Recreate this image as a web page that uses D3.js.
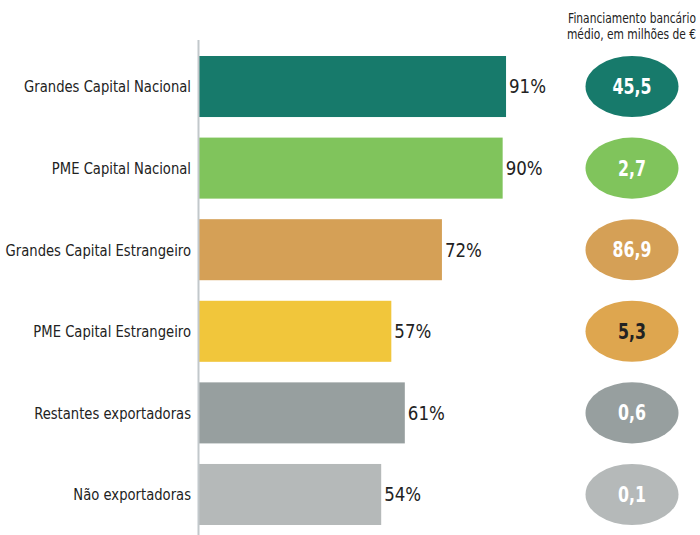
<!DOCTYPE html>
<html><head><meta charset="utf-8">
<script src="https://cdn.jsdelivr.net/npm/d3@7"></script>
<style>body{margin:0;background:#fff}svg{display:block}text{font-family:"DejaVu Sans Condensed","DejaVu Sans",sans-serif}</style>
</head><body>
<script>
const categories = ["Grandes Capital Nacional","PME Capital Nacional","Grandes Capital Estrangeiro","PME Capital Estrangeiro","Restantes exportadoras","Não exportadoras"];
const shares = [91, 90, 72, 57, 61, 54];
const financing = ["45,5","2,7","86,9","5,3","0,6","0,1"];
const barColors = ["#177a6b","#80c45c","#d5a056","#f1c63b","#979f9f","#b5b9b9"];
const ellipseColors = ["#177a6b","#80c45c","#d5a056","#dea64f","#979f9f","#b5b9b9"];
const ellipseText = ["#fff","#fff","#fff","#222","#fff","#fff"];
const titleLines = ["Financiamento bancário","médio, em milhões de €"];

const W=700,H=535;
const svg=d3.select("body").append("svg").attr("width",W).attr("height",H);
const x=d3.scaleLinear().domain([0,100]).range([199,199+337.4]);
const y=d3.scaleBand().domain(categories).range([56,525]).paddingInner(0.252).paddingOuter(0);

// place text with a horizontal squeeze so the first item reaches the target width
function place(sel, fx, fy, targetFirst){
  const k=targetFirst/sel.node().getComputedTextLength();
  sel.attr("x",0).attr("y",0)
     .attr("transform",(d,i)=>`translate(${fx(d,i)},${fy(d,i)}) scale(${k},1)`);
}

svg.selectAll("rect.bar").data(categories).join("rect").attr("class","bar")
  .attr("x",x(0)).attr("y",d=>y(d)).attr("height",y.bandwidth())
  .attr("width",(d,i)=>x(shares[i])-x(0)).attr("fill",(d,i)=>barColors[i]);

svg.append("line").attr("x1",198.5).attr("x2",198.5).attr("y1",40).attr("y2",535)
  .attr("stroke","#c2c8cb").attr("stroke-width",2);

const cy=d=>y(d)+y.bandwidth()/2;

const cat=svg.selectAll("text.cat").data(categories).join("text").attr("class","cat")
  .attr("dy","0.36em").attr("text-anchor","end").attr("font-size",16.5).attr("fill","#222").text(d=>d);
place(cat,()=>191,cy,167);

const val=svg.selectAll("text.val").data(categories).join("text").attr("class","val")
  .attr("dy","0.36em").attr("font-size",19).attr("fill","#222").text((d,i)=>shares[i]+"%");
place(val,(d,i)=>x(shares[i])+3,cy,37);

const cx=632;
svg.selectAll("ellipse").data(categories).join("ellipse")
  .attr("cx",cx).attr("cy",cy).attr("rx",46.5).attr("ry",y.bandwidth()/2)
  .attr("fill",(d,i)=>ellipseColors[i]);
const fin=svg.selectAll("text.fin").data(categories).join("text").attr("class","fin")
  .attr("dy","0.37em").attr("text-anchor","middle").attr("font-size",20.5).attr("font-weight","bold")
  .attr("fill",(d,i)=>ellipseText[i]).text((d,i)=>financing[i]);
place(fin,()=>cx,cy,39);

const tt=svg.selectAll("text.title").data(titleLines).join("text").attr("class","title")
  .attr("text-anchor","end").attr("font-size",14).attr("fill","#222").text(d=>d);
place(tt,()=>696,(d,i)=>23+i*16,128);
</script>
</body></html>
